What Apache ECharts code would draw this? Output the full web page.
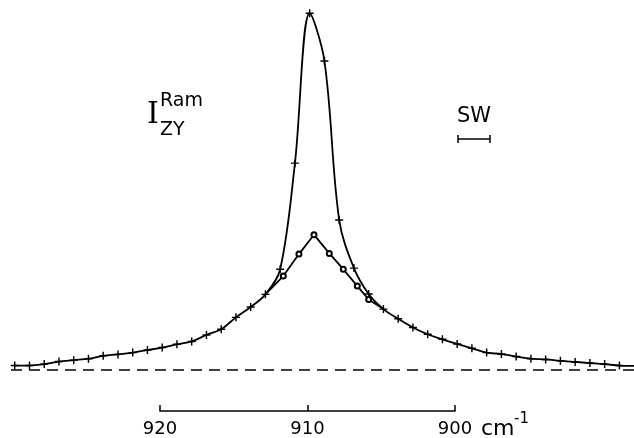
<!DOCTYPE html>
<html>
<head>
<meta charset="utf-8">
<script src="https://cdn.jsdelivr.net/npm/echarts@6/dist/echarts.min.js"></script>
<style>
  html, body { margin: 0; padding: 0; background: #fff; }
  #ram_chart { width: 634px; height: 438px; }
</style>
</head>
<body>
<div id="ram_chart"></div>
<script>
// wavenumbers (cm-1) of the "+" points and their intensities (arb. units, baseline = 0)
const crossX = [929.85, 928.85, 927.85, 926.85, 925.85, 924.85, 923.85, 922.85, 921.85, 920.85,
                919.85, 918.85, 917.85, 916.85, 915.85, 914.85, 913.85, 912.85, 911.85, 910.85,
                909.85, 908.85, 907.85, 906.85, 905.85, 904.85, 903.85, 902.85, 901.85, 900.85,
                899.85, 898.85, 897.85, 896.85, 895.85, 894.85, 893.85, 892.85, 891.85, 890.85,
                889.85, 888.85, 887.85];
const crossY = [1.1, 1.1, 1.5, 2.2, 2.6, 3.0, 3.8, 4.2, 4.7, 5.4,
                6.1, 7.0, 7.8, 9.6, 11.2, 14.5, 17.4, 20.9, 27.9, 57.4,
                99.1, 85.8, 41.6, 28.2, 21.0, 16.8, 14.1, 11.7, 9.8, 8.4,
                7.1, 5.9, 4.7, 4.3, 3.6, 3.0, 2.8, 2.4, 2.1, 1.8,
                1.5, 1.1, 1.0];
// "o" points (first and last are where the curve joins the "+" curve)
const circleX = [912.85, 911.64, 910.58, 909.56, 908.52, 907.57, 906.62, 905.85, 904.85];
const circleY = [20.9, 26.0, 32.1, 37.5, 32.3, 27.9, 23.2, 19.5, 16.8];
// scale bar below the plot
const scaleTicks = [920, 910, 900];

const crossSymbol = 'path://M0,4.1H10V5.9H0Z M4.1,0H5.9V10H4.1Z';
const font = 'DejaVu Sans';

const chart = echarts.init(document.getElementById('ram_chart'), null, { renderer: 'canvas' });

const circleData = circleX.map((x, i) => ({
    value: [x, circleY[i]],
    symbol: (i === 0 || i === circleX.length - 1) ? 'none' : 'emptyCircle'
}));

const option = {
    animation: false,
    backgroundColor: '#fff',
    grid: [
        { left: 10, right: 0, top: 10, bottom: 68.5 },
        { left: 160, width: 295, top: 400, height: 12.5 }
    ],
    xAxis: [{
        gridIndex: 0, type: 'value', inverse: true,
        min: 887.86, max: 930.17, show: false
    }, {
        gridIndex: 1, type: 'value', inverse: true,
        min: scaleTicks[2], max: scaleTicks[0], interval: 10,
        axisLine: { lineStyle: { color: '#000', width: 1.5 } },
        axisTick: { inside: true, length: 6, lineStyle: { color: '#000', width: 1.5 } },
        axisLabel: { margin: 9, color: '#000', fontSize: 18, fontFamily: font },
        splitLine: { show: false }
    }],
    yAxis: [
        { gridIndex: 0, type: 'value', min: 0, max: 100, show: false },
        { gridIndex: 1, type: 'value', min: 0, max: 1, show: false }
    ],
    series: [{
        name: 'cross',
        type: 'line',
        data: crossX.map((x, i) => [x, crossY[i]]),
        smooth: 0.35,
        symbol: crossSymbol,
        symbolSize: 8,
        itemStyle: { color: '#000' },
        lineStyle: { color: '#000', width: 1.8 },
        markLine: {
            silent: true,
            symbol: 'none',
            label: { show: false },
            lineStyle: { color: '#000', width: 1.5, type: [11, 7] },
            data: [{ yAxis: 0 }]
        }
    }, {
        name: 'circle',
        type: 'line',
        data: circleData,
        symbolSize: 5,
        itemStyle: { color: '#000', borderWidth: 1.3 },
        lineStyle: { color: '#000', width: 1.8 },
        z: 3
    }, {
        // empty series on the scale-bar grid so the axis is laid out
        type: 'line', xAxisIndex: 1, yAxisIndex: 1, data: [], silent: true
    }],
    graphic: [
        { type: 'text', left: 147, top: 100, style: { text: 'I', font: '30px "DejaVu Serif"', fill: '#000' } },
        { type: 'text', left: 160, top: 92, style: { text: 'Ram', font: '19px "' + font + '"', fill: '#000' } },
        { type: 'text', left: 160, top: 121, style: { text: 'ZY', font: '19px "' + font + '"', fill: '#000' } },
        { type: 'text', left: 457, top: 106, style: { text: 'SW', font: '21px "' + font + '"', fill: '#000' } },
        { type: 'line', shape: { x1: 458, y1: 139, x2: 490, y2: 139 }, style: { stroke: '#000', lineWidth: 1.5 } },
        { type: 'line', shape: { x1: 458, y1: 135, x2: 458, y2: 143 }, style: { stroke: '#000', lineWidth: 1.5 } },
        { type: 'line', shape: { x1: 490, y1: 135, x2: 490, y2: 143 }, style: { stroke: '#000', lineWidth: 1.5 } },
        { type: 'text', left: 481, top: 418, style: { text: 'cm', font: '22px "' + font + '"', fill: '#000' } },
        { type: 'text', left: 514, top: 412, style: { text: '-1', font: '15px "' + font + '"', fill: '#000' } }
    ]
};

chart.setOption(option);
</script>
</body>
</html>
